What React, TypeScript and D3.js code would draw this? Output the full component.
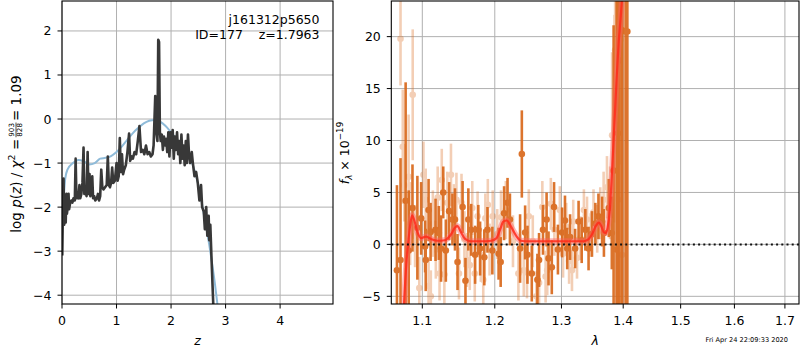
import { useEffect, useRef } from "react";
import * as d3 from "d3";

// p(z) panel: redshift grid and log p(z)
const pzZ = [0.005, 0.015, 0.028, 0.04, 0.055, 0.068, 0.08, 0.09, 0.105, 0.12, 0.13, 0.15, 0.17, 0.19, 0.21, 0.235, 0.25, 0.265, 0.285, 0.3, 0.32, 0.335, 0.355, 0.375, 0.395, 0.41, 0.43, 0.45, 0.47, 0.485, 0.505, 0.52, 0.54, 0.555, 0.57, 0.59, 0.61, 0.64, 0.66, 0.68, 0.7, 0.72, 0.74, 0.76, 0.79, 0.82, 0.84, 0.86, 0.88, 0.9, 0.92, 0.94, 0.97, 1.0, 1.02, 1.04, 1.06, 1.08, 1.1, 1.12, 1.14, 1.17, 1.2, 1.23, 1.25, 1.28, 1.3, 1.33, 1.36, 1.39, 1.42, 1.45, 1.48, 1.51, 1.54, 1.57, 1.6, 1.63, 1.66, 1.68, 1.71, 1.73, 1.75, 1.765, 1.78, 1.795, 1.81, 1.83, 1.85, 1.87, 1.89, 1.91, 1.93, 1.95, 1.97, 1.99, 2.01, 2.03, 2.05, 2.07, 2.09, 2.11, 2.13, 2.15, 2.17, 2.19, 2.21, 2.23, 2.25, 2.27, 2.29, 2.31, 2.33, 2.35, 2.38, 2.4, 2.43, 2.46, 2.49, 2.52, 2.55, 2.57, 2.6, 2.62, 2.645, 2.665, 2.69, 2.7, 2.72, 2.74, 2.78];
const pzLog = [-3.1, -2.2, -1.35, -2.4, -2.2, -2.35, -1.7, -2.15, -2.0, -1.7, -2.05, -1.9, -1.85, -1.9, -1.8, -1.85, -0.9, -1.8, -1.75, -1.8, -1.5, -1.8, -1.7, -1.45, -0.65, -1.7, -1.6, -1.75, -0.75, -1.7, -1.25, -1.75, -1.65, -1.3, -1.8, -1.75, -1.85, -1.8, -1.7, -1.85, -1.75, -1.15, -1.55, -1.6, -1.55, -1.5, -0.85, -1.5, -1.55, -1.45, -1.1, -1.45, -1.4, -1.0, -1.4, -1.3, -0.43, -1.2, -0.8, -1.25, -1.15, -1.05, -0.75, -0.33, -0.95, -0.85, -0.9, -0.75, -0.8, -0.5, -0.16, -0.75, -0.7, -0.8, -0.6, -0.8, -0.75, -0.85, -0.8, -0.6, 0.52, -0.3, -0.5, 1.8, 1.75, -0.3, -0.5, -0.35, -0.7, -0.4, -0.6, -0.45, -0.75, -0.3, -0.85, -0.3, -0.65, -0.25, -0.9, -0.4, -0.7, -0.3, -0.8, -0.5, -1.0, -0.35, -0.9, -0.6, -1.05, -0.5, -1.0, -0.35, -0.8, -1.0, -0.75, -1.0, -1.3, -1.2, -1.45, -1.85, -1.5, -2.0, -2.1, -2.5, -2.0, -2.65, -2.2, -2.75, -2.4, -3.1, -4.4];

// prior curve
const priorZ = [0.02, 0.06, 0.1, 0.2, 0.3, 0.4, 0.5, 0.6, 0.7, 0.8, 0.9, 1.0, 1.1, 1.2, 1.3, 1.4, 1.5, 1.6, 1.7, 1.8, 1.9, 2.0, 2.1, 2.2, 2.3, 2.4, 2.5, 2.6, 2.7, 2.8, 2.86];
const priorLog = [-2.0, -1.35, -1.15, -1.0, -0.93, -0.96, -1.03, -1.0, -0.9, -0.88, -0.84, -0.75, -0.62, -0.47, -0.32, -0.2, -0.1, -0.04, -0.02, -0.06, -0.16, -0.3, -0.45, -0.63, -0.82, -1.05, -1.5, -2.15, -2.85, -3.7, -4.3];

// spectrum, strong points
const darkLam = [1.067, 1.0716, 1.0782, 1.0822, 1.0871, 1.0935, 1.0985, 1.1037, 1.1045, 1.1083, 1.111, 1.1176, 1.122, 1.125, 1.128, 1.1315, 1.136, 1.1405, 1.144, 1.1475, 1.1545, 1.1585, 1.1625, 1.1665, 1.172, 1.1765, 1.179, 1.185, 1.1895, 1.1965, 1.2055, 1.2085, 1.2135, 1.2185, 1.222, 1.237, 1.2396, 1.2445, 1.248, 1.2545, 1.263, 1.2655, 1.2715, 1.277, 1.28, 1.285, 1.2885, 1.2945, 1.301, 1.3055, 1.309, 1.3135, 1.3215, 1.327, 1.332, 1.3378, 1.343, 1.3485, 1.354, 1.359, 1.365, 1.368, 1.376, 1.381, 1.384, 1.389, 1.3915, 1.394, 1.3985, 1.404, 1.407];
const darkFlux = [-2.5, -1.5, 4.2, -0.6, 3.5, 1.6, 2.5, -0.2, -1.5, 3.3, 1.2, 1.4, 1.1, -0.4, 5.0, -0.6, 3.2, 2.4, 2.4, -1.7, 3.6, -3.5, 2.4, 1.4, -1.0, 1.4, -0.4, -1.25, 1.4, -0.6, -0.9, -1.7, 3.0, 4.0, 2.4, -0.4, 8.7, 1.15, -1.0, -2.8, -3.4, -1.5, 1.4, 2.4, -1.35, -2.2, 3.6, -0.5, 1.15, 2.3, -0.4, 0.7, -0.4, 2.2, 0.4, 1.4, -0.4, 1.0, 2.0, 2.7, 2.2, 1.1, 3.5, 1.1, 7.1, -0.5, 10.7, 17.7, 20.6, 20.5, 20.5];
const darkErr = [8.2, 9.8, 11.4, 5.8, 4.2, 5.0, 3.5, 2.5, 3.0, 3.0, 2.8, 3.0, 2.6, 3.2, 2.5, 3.0, 2.8, 2.5, 3.0, 2.7, 2.5, 2.2, 3.0, 2.5, 2.8, 2.4, 2.6, 2.7, 2.2, 2.3, 2.5, 2.4, 2.6, 2.4, 2.5, 3.3, 4.2, 2.6, 2.8, 2.7, 2.5, 2.6, 2.4, 2.6, 2.6, 2.6, 2.4, 2.4, 2.4, 2.4, 2.0, 2.2, 1.9, 2.0, 2.2, 2.0, 2.1, 2.2, 2.0, 2.2, 2.4, 2.3, 2.8, 3.5, 14, 30, 30, 30, 30, 30, 30];

// spectrum, weak points
const lightLam = [1.0716, 1.0745, 1.0765, 1.082, 1.084, 1.0874, 1.0905, 1.096, 1.1015, 1.1045, 1.1083, 1.1113, 1.114, 1.118, 1.1205, 1.123, 1.126, 1.1295, 1.1335, 1.1385, 1.1425, 1.146, 1.1495, 1.153, 1.157, 1.1605, 1.1645, 1.168, 1.1715, 1.1755, 1.18, 1.1835, 1.1865, 1.19, 1.1925, 1.197, 1.2035, 1.209, 1.216, 1.2265, 1.2345, 1.2425, 1.2473, 1.25, 1.256, 1.2615, 1.2655, 1.2705, 1.2755, 1.278, 1.2835, 1.289, 1.2975, 1.3025, 1.3075, 1.312, 1.3165, 1.3185, 1.3245, 1.33, 1.3355, 1.3405, 1.3465, 1.351, 1.357, 1.362, 1.3675, 1.373, 1.378, 1.3815, 1.3855, 1.3865, 1.389, 1.392, 1.3955, 1.398];
const lightFlux = [19.8, 9.4, 5.7, 6.5, 2.0, 14.4, 0.8, -4.2, 6.7, 4.3, -4.0, -5.0, 2.0, -0.5, 4.5, -2.8, 6.2, -2.9, 4.0, 6.7, 3.0, 4.3, -2.8, 4.0, 0.5, -1.5, -2.0, 3.5, -2.8, 2.7, -1.0, -3.4, 2.5, 3.8, -0.5, 2.7, 1.0, 2.6, 3.3, 0.3, -2.8, -2.5, -2.7, 2.7, 0.3, -5.0, -3.7, 3.6, -3.1, -2.5, 3.9, 1.4, 3.3, -0.9, 1.7, -1.6, -2.5, 2.2, -1.3, 0.6, 3.3, 2.4, 0.9, 3.1, 1.5, 3.0, 4.3, 5.5, 4.0, 10.5, 12.1, 18.7, 10.3, 4.3, 19.7, -1.0];
const lightErr = [4.5, 5.5, 3.5, 6.0, 4.0, 6.3, 3.0, 3.0, 3.2, 3.0, 2.8, 2.5, 3.2, 2.8, 3.0, 2.6, 3.0, 2.8, 3.0, 3.0, 2.8, 2.6, 2.5, 2.8, 2.7, 2.6, 2.4, 2.6, 2.7, 2.4, 2.6, 2.5, 2.4, 2.5, 2.5, 2.5, 2.4, 2.6, 2.8, 2.5, 2.6, 2.5, 2.5, 2.6, 2.5, 2.4, 2.5, 2.5, 2.5, 2.4, 2.5, 2.5, 2.3, 2.3, 2.3, 2.2, 2.0, 2.1, 2.0, 2.1, 2.0, 2.2, 2.1, 2.2, 2.3, 2.5, 2.7, 3.0, 3.5, 8, 10, 10, 30, 30, 12, 30];

// best-fit template
const modelLam = [1.0755, 1.079, 1.0835, 1.0865, 1.0895, 1.0935, 1.0985, 1.105, 1.112, 1.12, 1.13, 1.138, 1.1445, 1.1475, 1.152, 1.1585, 1.166, 1.18, 1.195, 1.2025, 1.208, 1.2125, 1.2175, 1.222, 1.227, 1.232, 1.238, 1.25, 1.3, 1.335, 1.342, 1.348, 1.355, 1.3595, 1.364, 1.3675, 1.371, 1.374, 1.3775, 1.3805, 1.3835, 1.3865, 1.3895, 1.3925, 1.396, 1.399];
const modelFlux = [-6.5, -2.0, 1.5, 2.8, 2.3, 1.2, 0.6, 0.75, 0.5, 0.35, 0.4, 0.9, 1.65, 1.75, 1.2, 0.5, 0.3, 0.3, 0.35, 0.6, 1.5, 2.2, 2.3, 1.9, 1.3, 0.75, 0.35, 0.3, 0.3, 0.3, 0.45, 0.9, 1.8, 2.1, 1.7, 1.2, 1.1, 1.6, 3.2, 6.0, 9.5, 13.0, 16.5, 19.5, 22.0, 24.5];

const zTicks = [0, 1, 2, 3, 4];
const pTicks = [-4, -3, -2, -1, 0, 1, 2];
const lamTicks = [1.1, 1.2, 1.3, 1.4, 1.5, 1.6, 1.7];
const fTicks = [-5, 0, 5, 10, 15, 20];

const FONT = "DejaVu Sans, sans-serif";
const FS = 12.5;
const ORANGE = "#d9691c";

export default function App() {
  const svgRef = useRef<SVGSVGElement>(null);

  useEffect(() => {
    if (!svgRef.current) return;
    const svg = d3.select(svgRef.current);
    svg.selectAll("*").remove();

    const L = { x0: 62, x1: 333, y0: 1, y1: 304 };
    const R = { x0: 391.3, x1: 799, y0: 1, y1: 304 };

    const xz = d3.scaleLinear().domain([0, 4.97]).range([L.x0, L.x1]);
    const yp = d3.scaleLinear().domain([-4.2, 2.68]).range([L.y1, L.y0]);
    const xl = d3.scaleLog().domain([1.0598, 1.729]).range([R.x0, R.x1]);
    const yf = d3.scaleLinear().domain([-5.74, 23.43]).range([R.y1, R.y0]);

    const defs = svg.append("defs");
    [["clipL", L], ["clipR", R]].forEach(([id, b]: any) => {
      defs.append("clipPath").attr("id", id).append("rect")
        .attr("x", b.x0).attr("y", b.y0).attr("width", b.x1 - b.x0).attr("height", b.y1 - b.y0);
    });

    // grids
    const grid = (b: any, xs: number[], xf: any, ys: number[], yfn: any) => {
      const g = svg.append("g").attr("stroke", "#b0b0b0").attr("stroke-width", 1);
      xs.forEach(v => g.append("line").attr("x1", xf(v)).attr("x2", xf(v)).attr("y1", b.y0).attr("y2", b.y1));
      ys.forEach(v => g.append("line").attr("y1", yfn(v)).attr("y2", yfn(v)).attr("x1", b.x0).attr("x2", b.x1));
    };
    grid(L, zTicks, xz, pTicks, yp);
    grid(R, lamTicks, xl, fTicks, yf);

    // left panel curves
    const gl = svg.append("g").attr("clip-path", "url(#clipL)");
    const prior = d3.range(priorZ.length).map(i => [priorZ[i], priorLog[i]] as [number, number]);
    gl.append("path").datum(prior)
      .attr("d", d3.line().x(d => xz(d[0])).y(d => yp(d[1])).curve(d3.curveMonotoneX))
      .attr("fill", "none").attr("stroke", "#8fbbd9").attr("stroke-width", 2);
    const pz = d3.range(pzZ.length).map(i => [pzZ[i], pzLog[i]] as [number, number]);
    gl.append("path").datum(pz)
      .attr("d", d3.line().x(d => xz(d[0])).y(d => yp(d[1])))
      .attr("fill", "none").attr("stroke", "#383838").attr("stroke-width", 2.6).attr("stroke-linejoin", "round");

    // right panel points
    const gr = svg.append("g").attr("clip-path", "url(#clipR)");
    const drawPts = (lam: number[], flux: number[], err: number[], op: number) => {
      const g = gr.append("g").attr("opacity", op);
      lam.forEach((l, i) => {
        g.append("line").attr("x1", xl(l)).attr("x2", xl(l))
          .attr("y1", yf(flux[i] - err[i])).attr("y2", yf(flux[i] + err[i]))
          .attr("stroke", ORANGE).attr("stroke-width", 2.6);
        g.append("circle").attr("cx", xl(l)).attr("cy", yf(flux[i])).attr("r", 3.3).attr("fill", ORANGE);
      });
    };
    drawPts(lightLam, lightFlux, lightErr, 0.32);
    drawPts(darkLam, darkFlux, darkErr, 0.92);

    const model = d3.range(modelLam.length).map(i => [modelLam[i], modelFlux[i]] as [number, number]);
    const mline = d3.line().x(d => xl(d[0])).y(d => yf(d[1])).curve(d3.curveMonotoneX);
    gr.append("path").datum(model).attr("d", mline).attr("fill", "none")
      .attr("stroke", "#ff6060").attr("stroke-opacity", 0.45).attr("stroke-width", 6);
    gr.append("path").datum(model).attr("d", mline).attr("fill", "none")
      .attr("stroke", "#ff2a1a").attr("stroke-opacity", 0.85).attr("stroke-width", 2.2);

    gr.append("line").attr("x1", R.x0).attr("x2", R.x1).attr("y1", yf(0)).attr("y2", yf(0))
      .attr("stroke", "#111").attr("stroke-width", 2).attr("stroke-dasharray", "2,3.2");

    // frames and ticks
    const frame = (b: any) => svg.append("rect").attr("x", b.x0).attr("y", b.y0)
      .attr("width", b.x1 - b.x0).attr("height", b.y1 - b.y0)
      .attr("fill", "none").attr("stroke", "#000").attr("stroke-width", 1.1);
    frame(L); frame(R);

    const fmt = d3.format("");
    const ticks = (b: any, xs: number[], xf: any, xfmt: (v: number) => string, ys: number[], yfn: any) => {
      const g = svg.append("g").attr("font-family", FONT).attr("font-size", FS).attr("fill", "#000");
      xs.forEach(v => {
        g.append("line").attr("x1", xf(v)).attr("x2", xf(v)).attr("y1", b.y1).attr("y2", b.y1 + 4.5).attr("stroke", "#000");
        g.append("text").attr("x", xf(v)).attr("y", b.y1 + 21).attr("text-anchor", "middle").text(xfmt(v));
      });
      ys.forEach(v => {
        g.append("line").attr("y1", yfn(v)).attr("y2", yfn(v)).attr("x1", b.x0).attr("x2", b.x0 - 4.5).attr("stroke", "#000");
        g.append("text").attr("x", b.x0 - 10.5).attr("y", yfn(v) + 4.5).attr("text-anchor", "end").text(fmt(v));
      });
    };
    ticks(L, zTicks, xz, v => fmt(v), pTicks, yp);
    ticks(R, lamTicks, xl, v => d3.format(".1f")(v), fTicks, yf);

    // axis labels
    svg.append("text").attr("x", (L.x0 + L.x1) / 2).attr("y", 345).attr("text-anchor", "middle")
      .attr("font-family", FONT).attr("font-size", FS).attr("font-style", "italic").text("z");
    svg.append("text").attr("x", (R.x0 + R.x1) / 2).attr("y", 345).attr("text-anchor", "middle")
      .attr("font-family", FONT).attr("font-size", FS).attr("font-style", "italic").text("λ");

    // annotation
    const ann = svg.append("g").attr("font-family", FONT).attr("font-size", FS).attr("text-anchor", "end");
    ann.append("text").attr("x", 319.5).attr("y", 23.5).text("j161312p5650");
    ann.append("text").attr("x", 319.5).attr("y", 38.5).style("white-space", "pre").text("ID=177    z=1.7963");

    // date stamp
    svg.append("text").attr("x", 788).attr("y", 341.5).attr("text-anchor", "end")
      .attr("font-family", FONT).attr("font-size", 6.6).text("Fri Apr 24 22:09:33 2020");

    // left y label with fraction
    const LFS = 13.5;
    const yl = svg.append("g").attr("font-family", FONT).attr("font-size", LFS);
    const t1 = yl.append("text").attr("x", 0).attr("y", 0);
    t1.append("tspan").text("log ");
    t1.append("tspan").attr("font-style", "italic").text("p");
    t1.append("tspan").text("(");
    t1.append("tspan").attr("font-style", "italic").text("z");
    t1.append("tspan").text(") / ");
    t1.append("tspan").attr("font-style", "italic").text("χ");
    t1.append("tspan").attr("font-size", 9.5).attr("dy", -5.5).text("2");
    t1.append("tspan").attr("dy", 5.5).text(" = ");
    const w1 = (t1.node() as SVGTextElement).getComputedTextLength();
    const fx = w1 + 1.5;
    const fr = yl.append("g").attr("font-size", 7.2).attr("text-anchor", "middle");
    const num = fr.append("text").attr("y", -6.2).text("903");
    const fw = (num.node() as SVGTextElement).getComputedTextLength() + 1;
    num.attr("x", fx + fw / 2);
    fr.append("text").attr("x", fx + fw / 2).attr("y", 1.9).text("828");
    fr.append("line").attr("x1", fx).attr("x2", fx + fw).attr("y1", -4.5).attr("y2", -4.5)
      .attr("stroke", "#000").attr("stroke-width", 0.7);
    const t3 = yl.append("text").attr("x", fx + fw + 1.5).attr("y", 0).text(" = 1.09");
    const w3 = (t3.node() as SVGTextElement).getComputedTextLength();
    const total = fx + fw + 1.5 + w3;
    yl.attr("transform", `translate(20.5,${154 + total / 2}) rotate(-90)`);

    // right y label
    const rl = svg.append("text").attr("transform", "translate(348.5,153) rotate(-90)")
      .attr("text-anchor", "middle").attr("font-family", FONT).attr("font-size", FS);
    rl.append("tspan").attr("font-style", "italic").text("f");
    rl.append("tspan").attr("font-style", "italic").attr("font-size", 8.8).attr("dy", 3).text("λ");
    rl.append("tspan").attr("dy", -3).text(" × 10");
    rl.append("tspan").attr("font-size", 8.8).attr("dy", -5.5).text("−19");
  }, []);

  return (
    <svg
      ref={svgRef}
      width={800}
      height={350}
      style={{ position: "fixed", left: 0, top: 0, background: "#fff" }}
    />
  );
}
